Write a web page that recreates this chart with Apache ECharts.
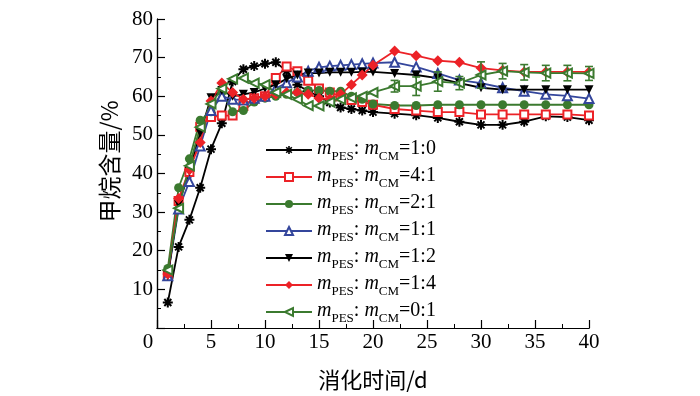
<!DOCTYPE html>
<html><head><meta charset="utf-8">
<script src="https://cdn.jsdelivr.net/npm/echarts@6/dist/echarts.min.js"></script>
<style>html,body{margin:0;padding:0;background:#fff}#c{width:700px;height:396px}</style>
</head><body><div id="c"></div>
<script>
const days = [1,2,3,4,5,6,7,8,9,10,11,12,13,14,15,16,17,18,19,20,22,24,26,28,30,32,34,36,38,40];
const names = ['1:0','4:1','2:1','1:1','1:2','1:4','0:1'];
const s10 = [6.6,21,28,36.3,46.3,53,63.8,67,67.8,68.4,68.8,66.5,63,61.3,60,58.4,57.1,56.7,56.3,55.9,55.5,55.1,54.4,53.4,52.6,52.6,53.4,54.8,54.6,53.8];
const s41 = [13.7,32.9,40.4,52.1,54.6,55,55,57.5,59.5,60,64.7,67.7,66.5,64,62,61,60,59,58.5,57.8,56.7,56.3,55.9,55.9,55.3,55.3,55.3,55.3,55.3,55];
const s21 = [15.4,36.3,43.8,53.8,56,61,56,56.3,58.5,59.5,60,60.5,61,61.5,61.5,61.3,61.3,60,59.2,58,57.6,57.6,57.8,57.8,57.8,57.8,57.8,57.8,57.8,57.8];
const s11 = [13.5,30.8,37.9,47.1,56.3,60,59.2,59,59.5,60,62,63.5,65,66.5,67.5,67.8,68,68.2,68.4,68.6,68.8,67.6,65.9,64.2,63.4,62.2,61.3,60.5,60.1,59.4];
const s12 = [13.5,32,40.5,50.5,59.6,61.5,60,60.5,61,62,63,64.5,65.5,66,66,66.2,66.2,66.2,66.3,66.3,65.9,65.5,64.7,63.4,62.2,61.7,61.7,61.7,61.7,61.7];
const s14 = [14,33.5,41,48,58.8,63.4,61,59.2,59.5,60,60.5,61,61,60.5,59.5,59.2,60.5,63,65.5,68,71.7,70.5,69.2,68.8,67.3,66.7,66.3,66.3,66.3,66.3];
const s01 = [15,31,42,52,58,62,64.5,64.7,63.4,63,61,60.5,59.2,57.6,57.5,58.5,59.2,59.6,60,61,62.6,62.6,63.8,63.4,65.5,66.5,66.2,66,66,65.9];
const e01 = [0,0,0,0,0,0,0,0,0,0,0,0,0,0,0,0,0,0,0,0,1.5,2.4,2.5,1.7,3.4,2,2,2,2,1.8];
const xTicks = [0,5,10,15,20,25,30,35,40];
const yTicks = [10,20,30,40,50,60,70,80];

const RED='#ec2227', GREEN='#3b7a2f', BLUE='#34469c', BLACK='#000';
const ast = 'path://M-10,-2L10,-2L10,2L-10,2Z M-2,-10L2,-10L2,10L-2,10Z M-5.59,-8.41L8.41,5.59L5.59,8.41L-8.41,-5.59Z M5.59,-8.41L8.41,-5.59L-5.59,8.41L-8.41,5.59Z';
const defs = [
  {d:s10,c:BLACK,sym:ast,size:10,rot:0},
  {d:s41,c:RED,sym:'emptyRect',size:8,rot:0},
  {d:s21,c:GREEN,sym:'circle',size:9,rot:0},
  {d:s11,c:BLUE,sym:'emptyTriangle',size:9,rot:0},
  {d:s12,c:BLACK,sym:'triangle',size:9,rot:180},
  {d:s14,c:RED,sym:'diamond',size:11,rot:0},
  {d:s01,c:GREEN,sym:'emptyTriangle',size:9,rot:90}
];
const serif = '"Liberation Serif","DejaVu Serif",serif';
const series = defs.map((o,i)=>({
  name:names[i], type:'line', data:days.map((x,j)=>[x,o.d[j]]),
  symbol:o.sym, symbolSize:o.size, symbolRotate:o.rot, showAllSymbol:true,
  lineStyle:{color:o.c,width:1.8}, itemStyle:{color:o.c,borderColor:o.c,borderWidth:(o.sym.indexOf('empty')===0?1.8:0)},
  z:2
}));
series.push({
  type:'custom', name:'err', z:3,
  data:days.map((x,j)=>[x,s01[j]-e01[j],s01[j]+e01[j]]).filter((v,j)=>e01[j]>0),
  renderItem:function(params,api){
    const x=api.value(0), p1=api.coord([x,api.value(1)]), p2=api.coord([x,api.value(2)]);
    const w=4, st={stroke:GREEN,lineWidth:1.6};
    return {type:'group',children:[
      {type:'line',shape:{x1:p1[0],y1:p1[1],x2:p2[0],y2:p2[1]},style:st},
      {type:'line',shape:{x1:p1[0]-w,y1:p1[1],x2:p1[0]+w,y2:p1[1]},style:st},
      {type:'line',shape:{x1:p2[0]-w,y1:p2[1],x2:p2[0]+w,y2:p2[1]},style:st}
    ]};
  }
});
const axisCommon = {
  axisLine:{show:true,lineStyle:{color:'#000',width:1.2}},
  axisTick:{show:true,inside:true,length:8,lineStyle:{color:'#000',width:1.2}},
  minorTick:{show:true,splitNumber:2,length:4,lineStyle:{color:'#000',width:1}},
  splitLine:{show:false}
};
const chart = echarts.init(document.getElementById('c'),null,{renderer:'canvas'});
chart.setOption({
  animation:false,
  backgroundColor:'#fff',
  grid:{left:157,right:111,top:19,bottom:58},
  xAxis:[Object.assign({type:'value',min:0,max:40,interval:5,
    name:'消化时间/d',nameLocation:'middle',nameGap:41,
    nameTextStyle:{fontFamily:'"Noto Sans CJK SC",'+serif,fontSize:22,color:'#000'},
    axisLabel:{fontFamily:serif,fontSize:21,color:'#000',margin:4,
      formatter:function(v){return xTicks.indexOf(v)>=0?(v===0?'{z|0}':String(v)):'';},
      rich:{z:{fontFamily:serif,fontSize:21,color:'#000',padding:[0,18,0,0]}}}
  },axisCommon),
  Object.assign({type:'value',min:0,max:40,interval:5,position:'top',axisLabel:{show:false}},axisCommon,{axisTick:{show:false},minorTick:{show:false}})],
  yAxis:[Object.assign({type:'value',min:0,max:80,interval:10,
    name:'甲烷含量/%',nameLocation:'middle',nameGap:28,
    nameTextStyle:{fontFamily:'"Noto Sans CJK SC",'+serif,fontSize:23,color:'#000',padding:[0,0,0,24]},
    axisLabel:{fontFamily:serif,fontSize:21,color:'#000',margin:4,
      formatter:function(v){return yTicks.indexOf(v)>=0?String(v):'';}}
  },axisCommon),
  Object.assign({type:'value',min:0,max:80,interval:10,position:'right',axisLabel:{show:false}},axisCommon,{axisTick:{show:false},minorTick:{show:false}})],
  legend:{
    data:names, orient:'vertical', left:260, top:134, itemWidth:46, itemHeight:10, itemGap:3,
    formatter:function(n){return '{m|m}{s|PES}{n|: }{m|m}{s|CM}{n|='+n+'}';},
    textStyle:{color:'#000',fontFamily:serif,fontSize:20,
      rich:{
        m:{fontFamily:serif,fontStyle:'italic',fontSize:20,lineHeight:22,verticalAlign:'top',color:'#000'},
        n:{fontFamily:serif,fontSize:20,lineHeight:22,verticalAlign:'top',color:'#000'},
        s:{fontFamily:serif,fontSize:13,lineHeight:13,verticalAlign:'top',padding:[11,0,0,0],color:'#000'}
      }}
  },
  series:series
});
</script></body></html>
